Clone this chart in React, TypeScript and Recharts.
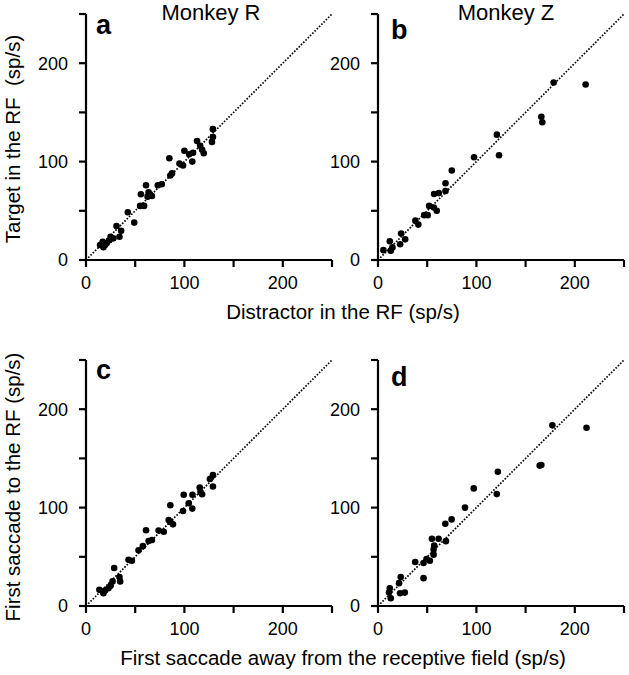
import { ReferenceLine, Scatter, ScatterChart, XAxis, YAxis } from "recharts";

const FONT = '"Liberation Sans", Arial, sans-serif';
const TICKS = [0, 50, 100, 150, 200, 250];
const LABELED = [0, 100, 200];

// panel a: Monkey R, target vs distractor
const aX = [14.3, 17.7, 17, 19.4, 21, 23.8, 25, 27.9, 31, 34, 35.7, 42.5, 49, 55, 59, 55.8, 61, 62.6, 63.6, 65, 67, 73, 77, 84.7, 85.7, 87.4, 95, 98.6, 100, 104.8, 108.8, 108, 112.9, 116, 118, 119.7, 128, 129, 129];
const aY = [15.3, 12.9, 18.6, 15.3, 17, 20, 23.7, 22, 34.6, 23.7, 29.8, 48.5, 38, 55, 55, 66.8, 76, 64.4, 68.8, 66.8, 65, 76, 77, 103.4, 85.8, 88, 98, 96, 111, 107.5, 109, 100, 121, 116, 112, 108.5, 120, 125, 133];

// panel b: Monkey Z, target vs distractor
const bX = [5.5, 12, 13, 14.7, 22.5, 23.5, 27.6, 38, 41, 47, 50.5, 52, 56.7, 59.7, 57, 61.8, 68.6, 68.6, 75, 97.6, 120.8, 123, 166, 167, 178.5, 211];
const bY = [10, 19, 9.5, 12.8, 16, 27, 21, 40, 36, 45.6, 45.6, 55, 53.4, 50, 67, 68, 70, 78, 91, 104.4, 127.4, 106.4, 145.6, 140, 180.4, 178.4];

// panel c: Monkey R, saccade to vs away
const cX = [13.6, 17.7, 19.4, 22.8, 25, 27, 28.6, 34, 34.7, 43.2, 46.6, 53.4, 57.8, 61, 63.6, 67, 73.8, 79, 84, 85.7, 85.7, 88.4, 98.6, 99.3, 104.4, 108, 108.2, 115.6, 116.3, 118, 125.9, 129, 129];
const cY = [16.4, 13, 15.7, 18, 20.5, 25, 38.6, 29.4, 25, 47, 46, 56.7, 60.8, 77, 66, 67, 76.8, 75.4, 87.4, 85.3, 102.4, 83, 96.6, 113, 104.4, 99, 113, 120.5, 116, 113.6, 129, 133, 121.5];

// panel d: Monkey Z, saccade to vs away
const dX = [11.2, 12, 13, 21.4, 23.1, 22.4, 27.2, 37.8, 46.3, 46.3, 49.3, 52.7, 56.5, 56.5, 57.1, 54.8, 61.6, 69, 68.4, 74.8, 88.4, 97.3, 121.8, 120.7, 164.3, 166, 177.2, 211.9];
const dY = [13.6, 18, 7.8, 23.2, 29.4, 13, 13.6, 44.7, 43.7, 28.3, 47.8, 46, 52.2, 57.3, 61.4, 68.3, 68.3, 65.9, 83.6, 88, 100, 119.5, 136.5, 113.7, 142.7, 143.3, 183.6, 181.2];

const zip = (xs: number[], ys: number[]) => xs.map((x, i) => ({ x, y: ys[i] }));

const axisLine = { stroke: "#000", strokeWidth: 2.2 };
const tickStyle = { fill: "#000", fontSize: 18, fontFamily: FONT };
const fmt = (v: number) => (LABELED.includes(v) ? String(v) : "");

function Dot(props: any) {
  return <circle cx={props.cx} cy={props.cy} r={3.3} fill="#000" />;
}

function Panel({ data, left, top }: { data: { x: number; y: number }[]; left: number; top: number }) {
  return (
    <div style={{ position: "absolute", left, top }}>
      <ScatterChart width={345} height={300} margin={{ top: 14, right: 13, left: 46, bottom: 10 }}>
        <XAxis
          type="number"
          dataKey="x"
          domain={[0, 250]}
          ticks={TICKS}
          interval={0}
          tickFormatter={fmt}
          height={30}
          tickSize={7}
          tickMargin={9}
          stroke="#000"
          axisLine={axisLine}
          tickLine={axisLine}
          tick={tickStyle}
        />
        <YAxis
          type="number"
          dataKey="y"
          domain={[0, 250]}
          ticks={TICKS}
          interval={0}
          tickFormatter={fmt}
          width={40}
          tickSize={7}
          tickMargin={11}
          stroke="#000"
          axisLine={axisLine}
          tickLine={axisLine}
          tick={tickStyle}
        />
        <ReferenceLine
          segment={[{ x: 0, y: 0 }, { x: 250, y: 250 }]}
          stroke="#000"
          strokeWidth={1.7}
          strokeDasharray="1.6 1.6"
        />
        <Scatter data={data} fill="#000" shape={<Dot />} isAnimationActive={false} />
      </ScatterChart>
    </div>
  );
}

export default function App() {
  return (
    <div
      style={{
        position: "absolute",
        left: 0,
        top: 0,
        width: 629,
        height: 675,
        overflow: "hidden",
        background: "#fff",
        fontFamily: FONT,
      }}
    >
      <Panel data={zip(aX, aY)} left={0} top={0} />
      <Panel data={zip(bX, bY)} left={292} top={0} />
      <Panel data={zip(cX, cY)} left={0} top={346} />
      <Panel data={zip(dX, dY)} left={292} top={346} />
      <svg
        width={629}
        height={675}
        style={{ position: "absolute", left: 0, top: 0, pointerEvents: "none" }}
        fontFamily={FONT}
      >
        <text x={211} y={20} fontSize={22} textAnchor="middle">Monkey R</text>
        <text x={506} y={20} fontSize={22} textAnchor="middle">Monkey Z</text>
        <text x={96} y={34} fontSize={27} fontWeight="bold">a</text>
        <text x={391} y={39} fontSize={27} fontWeight="bold">b</text>
        <text x={96} y={379} fontSize={27} fontWeight="bold">c</text>
        <text x={391} y={386} fontSize={27} fontWeight="bold">d</text>
        <text x={343} y={319} fontSize={20.5} textAnchor="middle">Distractor in the RF (sp/s)</text>
        <text x={343} y={665} fontSize={20.5} textAnchor="middle">First saccade away from the receptive field (sp/s)</text>
        <text x={20} y={139} fontSize={20.5} textAnchor="middle" transform="rotate(-90 20 139)" xmlSpace="preserve">Target in the RF  (sp/s)</text>
        <text x={20} y={487} fontSize={20.5} textAnchor="middle" transform="rotate(-90 20 487)">First saccade to the RF (sp/s)</text>
      </svg>
    </div>
  );
}
